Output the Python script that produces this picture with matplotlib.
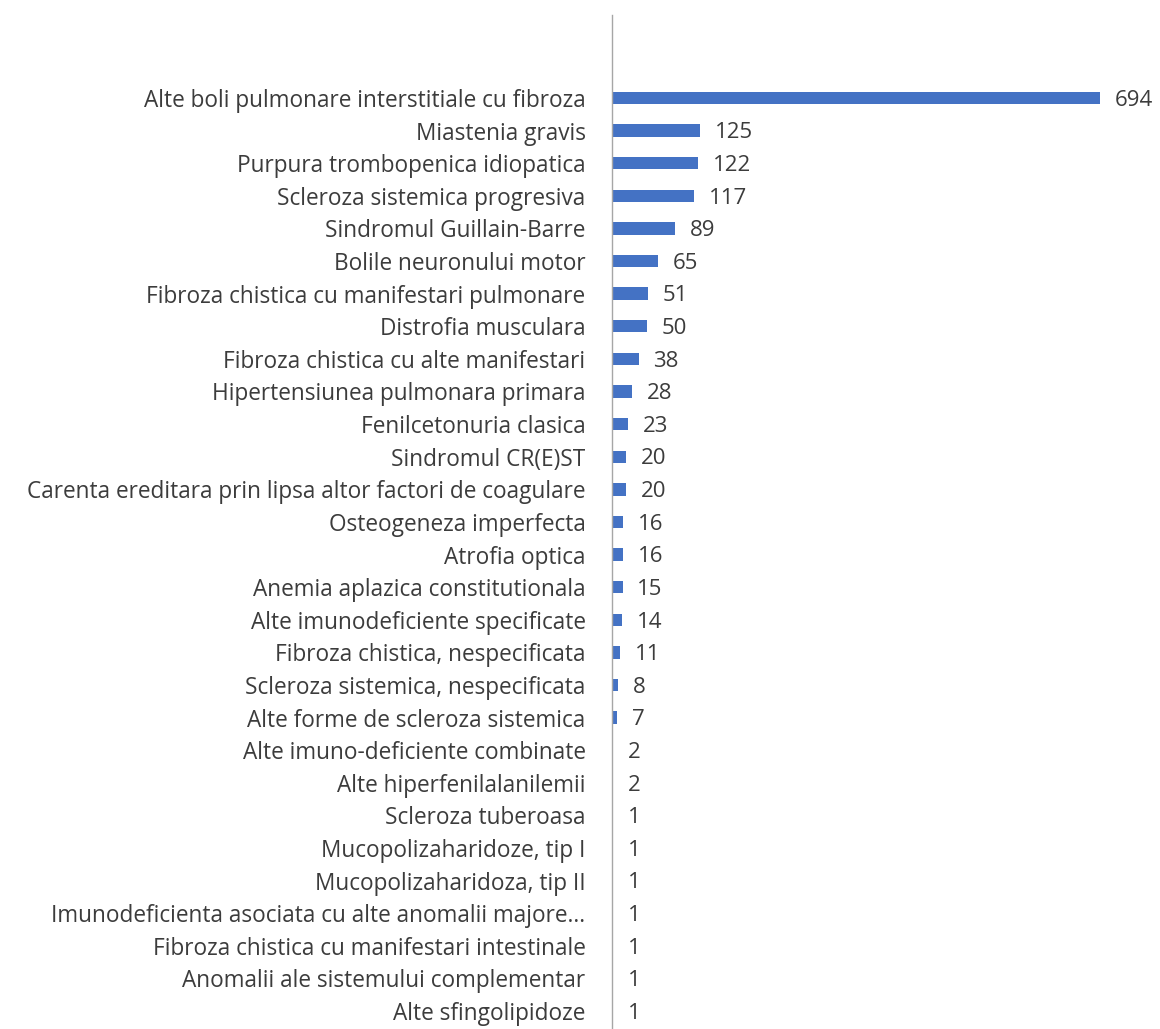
import matplotlib
matplotlib.use("Agg")
import matplotlib.pyplot as plt

categories = [
    "Alte boli pulmonare interstitiale cu fibroza",
    "Miastenia gravis",
    "Purpura trombopenica idiopatica",
    "Scleroza sistemica progresiva",
    "Sindromul Guillain-Barre",
    "Bolile neuronului motor",
    "Fibroza chistica cu manifestari pulmonare",
    "Distrofia musculara",
    "Fibroza chistica cu alte manifestari",
    "Hipertensiunea pulmonara primara",
    "Fenilcetonuria clasica",
    "Sindromul CR(E)ST",
    "Carenta ereditara prin lipsa altor factori de coagulare",
    "Osteogeneza imperfecta",
    "Atrofia optica",
    "Anemia aplazica constitutionala",
    "Alte imunodeficiente specificate",
    "Fibroza chistica, nespecificata",
    "Scleroza sistemica, nespecificata",
    "Alte forme de scleroza sistemica",
    "Alte imuno-deficiente combinate",
    "Alte hiperfenilalanilemii",
    "Scleroza tuberoasa",
    "Mucopolizaharidoze, tip I",
    "Mucopolizaharidoza, tip II",
    "Imunodeficienta asociata cu alte anomalii majore...",
    "Fibroza chistica cu manifestari intestinale",
    "Anomalii ale sistemului complementar",
    "Alte sfingolipidoze",
]
values = [694, 125, 122, 117, 89, 65, 51, 50, 38, 28, 23, 20, 20, 16, 16,
          15, 14, 11, 8, 7, 2, 2, 1, 1, 1, 1, 1, 1, 1]

plt.rcParams["font.family"] = ["Open Sans", "DejaVu Sans"]
text_color = "#3c3c3c"
bar_color = "#4472C4"

fig = plt.figure(figsize=(11.6, 10.29), dpi=100)
ax = fig.add_axes([612 / 1160, 0.0, 1 - 612 / 1160, (1029 - 15) / 1029])

pos = list(range(len(categories)))
ax.barh(pos, values, height=0.38, color=bar_color)

for p, v in zip(pos, values):
    ax.text(v + 21, p + 0.07, str(v), va="center", ha="left",
            fontsize=16, color=text_color)

ax.set_yticks(pos)
ax.set_yticklabels(categories, fontsize=16.3, color=text_color)
ax.tick_params(axis="y", length=0, pad=19)
ax.set_xticks([])

ax.set_xlim(0, 779)
ax.set_ylim(28.55, -2.546)

for side in ("top", "right", "bottom"):
    ax.spines[side].set_visible(False)
ax.spines["left"].set_color("#A6A6A6")
ax.spines["left"].set_linewidth(1.0)

fig.savefig("out.png", dpi=100)
